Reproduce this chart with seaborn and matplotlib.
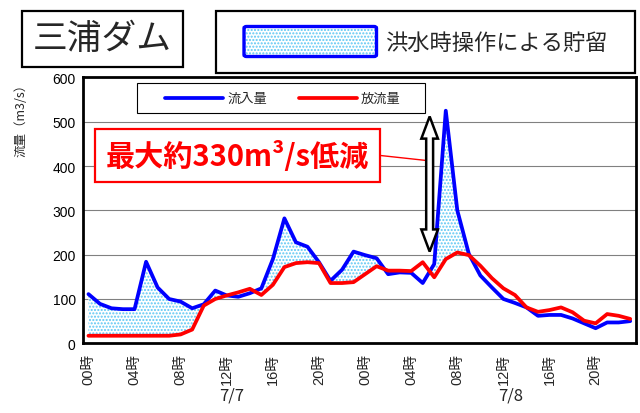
import numpy as np
import pandas as pd
import matplotlib
matplotlib.use("Agg")
import matplotlib.pyplot as plt
import matplotlib.patches as mpatches
import seaborn as sns

# ---- data ----
hour_labels = ["00時", "04時", "08時", "12時", "16時", "20時"] * 2
date_labels = ["7/7", "7/8"]
inflow = [111, 89, 79, 77, 77, 184, 126, 100, 94, 79, 88, 119,
          108, 105, 113, 124, 190, 282, 228, 218, 183, 141, 166, 207,
          199, 192, 156, 160, 159, 136, 179, 525, 300, 202, 153, 126,
          100, 91, 81, 62, 64, 64, 56, 45, 34, 47, 47, 50]
outflow = [17, 17, 17, 17, 17, 17, 17, 17, 20, 31, 85, 100,
           108, 115, 123, 109, 132, 172, 181, 183, 181, 136, 136, 138,
           156, 174, 164, 164, 163, 183, 149, 190, 205, 199, 175, 147,
           124, 109, 81, 71, 75, 81, 70, 51, 45, 66, 62, 55]
series_names = ["流入量", "放流量"]
title_text = "三浦ダム"
storage_label = "洪水時操作による貯留"
reduction_text = "最大約330m³/s低減"
y_label = "流量（m3/s）"
y_ticks = [0, 100, 200, 300, 400, 500, 600]

sns.set_style("white")
plt.rcParams["font.family"] = ["Noto Sans CJK JP", "DejaVu Sans"]
plt.rcParams["hatch.linewidth"] = 1.0

BLUE = "#0000ff"
RED = "#ff0000"
DOT = "#5cc6f4"
LATIN = ["Liberation Sans", "Noto Sans CJK JP"]

n = len(inflow)
x = np.arange(n)
df = pd.DataFrame({
    "x": np.concatenate([x, x]),
    "v": inflow + outflow,
    "s": [series_names[0]] * n + [series_names[1]] * n,
})

fig = plt.figure(figsize=(6.4, 4.14), dpi=100)
ax = fig.add_axes([0.1292, 0.1684, 0.8645, 0.6420])

# storage fill
ax.fill_between(x, inflow, outflow, where=np.array(inflow) >= np.array(outflow),
                interpolate=True, facecolor="white", edgecolor=DOT,
                hatch=".....", linewidth=0, zorder=1)

sns.lineplot(data=df, x="x", y="v", hue="s", palette=[BLUE, RED],
             linewidth=2.7, ax=ax, legend=False, zorder=3)

ax.set_xlim(-0.5, n - 0.5)
ax.set_ylim(0, 600)
ax.set_yticks(y_ticks)
ax.set_yticklabels([str(t) for t in y_ticks], family="Liberation Sans", fontsize=10)
ax.yaxis.grid(True, color="#808080", linewidth=0.8)
ax.xaxis.grid(False)
ax.set_axisbelow(True)
ax.tick_params(axis="y", direction="in", length=4, width=1, pad=5, colors="black")

label_pos = np.arange(0, n, 4)
ax.set_xticks(label_pos)
ax.set_xticklabels(hour_labels, rotation=90, fontsize=10.5, family=LATIN)
ax.tick_params(axis="x", which="major", length=0, pad=7)
ax.set_xticks(np.arange(3.5, n - 1, 4), minor=True)
ax.tick_params(axis="x", which="minor", direction="in", length=4, width=1, color="black")
ax.set_xlabel("")
ax.set_ylabel(y_label, fontsize=9)
ax.yaxis.set_label_coords(-0.10, 0.855)

for sp in ax.spines.values():
    sp.set_visible(True)
    sp.set_color("black")
    sp.set_linewidth(2)

# date labels
for d, pos in zip(date_labels, [12.4, 36.6]):
    ax.text(pos, -0.195, d, transform=ax.get_xaxis_transform(),
            ha="center", va="center", fontsize=12)

# inner legend (drawn in axes coordinates)
ax.add_patch(mpatches.Rectangle((0.0976, 0.8664), 0.5211, 0.1129, transform=ax.transAxes,
                                facecolor="white", edgecolor="black", linewidth=0.8, zorder=5))
for (x0, x1, tx), col, name in zip([(0.1483, 0.2535, 0.2626), (0.3909, 0.4957, 0.5030)],
                                   [BLUE, RED], series_names):
    ax.plot([x0, x1], [0.921, 0.921], transform=ax.transAxes, color=col,
            linewidth=2.7, solid_capstyle="round", zorder=6)
    ax.text(tx, 0.921, name, transform=ax.transAxes, ha="left", va="center",
            fontsize=9.5, zorder=6)

# reduction annotation box
ax.add_patch(mpatches.Rectangle((0.0222, 0.6057), 0.5151, 0.2017, transform=ax.transAxes,
                                facecolor="white", edgecolor=RED, linewidth=1.6, zorder=6))
ax.text(0.28, 0.707, reduction_text, transform=ax.transAxes, ha="center", va="center",
        color=RED, fontsize=21, fontweight="bold", zorder=7)
ax.plot([25.3, 29.2], [424, 413], color=RED, linewidth=1, zorder=6)

# hollow double arrow
ax_x, y_bot, y_top = 29.6, 207, 512
hw, sw, hl = 0.72, 0.3, 50
poly = [(ax_x, y_top), (ax_x + hw, y_top - hl), (ax_x + sw, y_top - hl),
        (ax_x + sw, y_bot + hl), (ax_x + hw, y_bot + hl), (ax_x, y_bot),
        (ax_x - hw, y_bot + hl), (ax_x - sw, y_bot + hl), (ax_x - sw, y_top - hl),
        (ax_x - hw, y_top - hl)]
ax.add_patch(mpatches.Polygon(poly, closed=True, facecolor="white", edgecolor="black",
                              linewidth=1.8, zorder=6))

# title box
def fx(px):
    return px / 640

def fy(py):
    return 1 - py / 414

fig.patches.append(mpatches.Rectangle((fx(22), fy(68)), fx(183) - fx(22), fy(12) - fy(68),
                                      transform=fig.transFigure, facecolor="white",
                                      edgecolor="black", linewidth=1.6))
fig.text(fx(102.5), fy(40), title_text, ha="center", va="center", fontsize=25)

# storage legend box
fig.patches.append(mpatches.Rectangle((fx(216), fy(74)), fx(635) - fx(216), fy(12) - fy(74),
                                      transform=fig.transFigure, facecolor="white",
                                      edgecolor="black", linewidth=1.6))
fig.patches.append(mpatches.Rectangle((fx(244), fy(57.5)), fx(376.5) - fx(244), fy(27.5) - fy(57.5),
                                      transform=fig.transFigure, facecolor="white",
                                      edgecolor=DOT, hatch=".....", linewidth=0))
fig.patches.append(mpatches.FancyBboxPatch((fx(244), fy(57.5)), fx(376.5) - fx(244),
                                           fy(27.5) - fy(57.5),
                                           boxstyle="round,pad=0,rounding_size=0.004",
                                           transform=fig.transFigure, facecolor="none",
                                           edgecolor=BLUE, linewidth=2.4))
fig.text(fx(385), fy(43), storage_label, ha="left", va="center", fontsize=16)

fig.savefig("out.png", dpi=100)
